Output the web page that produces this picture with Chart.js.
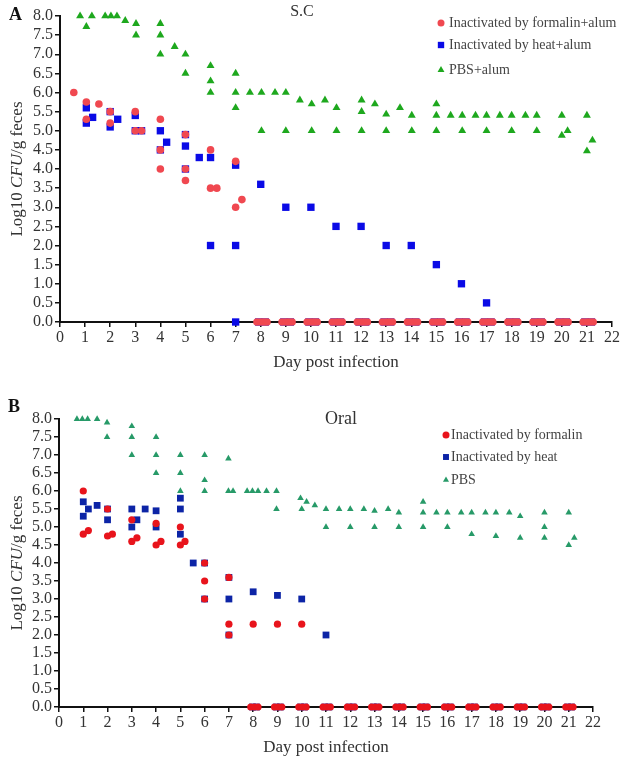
<!DOCTYPE html>
<html>
<head>
<meta charset="utf-8">
<script src="https://cdn.jsdelivr.net/npm/chart.js@4.4.0/dist/chart.umd.min.js"></script>
<style>
  html, body { margin: 0; padding: 0; background: #fff; }
  .panel { width: 625px; height: 380px; }
</style>
</head>
<body>
<div class="panel"><canvas id="chartSC" width="625" height="380"></canvas></div>
<div class="panel"><canvas id="chartOral" width="625" height="380"></canvas></div>
<script>
// Panel A (S.C) - [day, log10 CFU/g]
const scFormalin = [[0.55,6.0],[1.05,5.75],[1.05,5.3],[1.55,5.7],[2.0,5.5],[2.0,5.2],[3.0,5.5],[3.0,5.0],[3.25,5.0],
  [4.0,5.3],[4.0,4.5],[4.0,4.0],[5.0,4.9],[5.0,4.0],[5.0,3.7],[6.0,4.5],[6.0,3.5],[6.25,3.5],[7.0,4.2],[7.0,3.0],[7.25,3.2]];
const scFormalinZeroDays = [7.85,8,8.12,8.25, 8.85,9,9.12,9.25, 9.85,10,10.12,10.25, 10.85,11,11.12,11.25,
  11.85,12,12.12,12.25, 12.85,13,13.12,13.25, 13.85,14,14.12,14.25, 14.85,15,15.12,15.25, 15.85,16,16.12,16.25,
  16.85,17,17.12,17.25, 17.85,18,18.12,18.25, 18.85,19,19.12,19.25, 19.85,20,20.12,20.25, 20.85,21,21.12,21.25];
const scHeat = [[1.05,5.6],[1.05,5.2],[1.3,5.35],[2.0,5.5],[2.0,5.1],[2.3,5.3],[3.0,5.4],[3.0,5.0],[3.25,5.0],
  [4.0,5.0],[4.0,4.5],[4.25,4.7],[5.0,4.9],[5.0,4.6],[5.0,4.0],[5.55,4.3],[6.0,4.3],[6.0,2.0],[7.0,4.1],[7.0,2.0],[7.0,0],
  [8.0,3.6],[9.0,3.0],[10.0,3.0],[11.0,2.5],[12.0,2.5],[13.0,2.0],[14.0,2.0],[15.0,1.5],[16.0,1.0],[17.0,0.5]];
const scHeatZeroDays = [7.92,8.18, 8.92,9.18, 9.92,10.18, 10.92,11.18, 11.92,12.18, 12.92,13.18, 13.92,14.18,
  14.92,15.18, 15.92,16.18, 16.92,17.18, 17.92,18.18, 18.92,19.18, 19.92,20.18, 20.92,21.18];
const scPbs = [[0.8,8.0],[1.05,7.72],[1.27,8.0],[1.8,8.0],[2.03,8.0],[2.27,8.0],[2.6,7.88],[3.03,7.8],[3.03,7.5],
  [4.0,7.8],[4.0,7.5],[4.0,7.0],[4.57,7.2],[5.0,7.0],[5.0,6.5],[6.0,6.7],[6.0,6.3],[6.0,6.0],[7.0,6.5],[7.0,6.0],[7.0,5.6],
  [7.57,6.0],[8.03,6.0],[8.03,5.0],[8.57,6.0],[9.0,6.0],[9.0,5.0],[9.56,5.8],[10.03,5.7],[10.03,5.0],[10.56,5.8],
  [11.02,5.6],[11.02,5.0],[12.02,5.8],[12.02,5.5],[12.02,5.0],[12.55,5.7],[13.0,5.43],[13.0,5.0],[13.55,5.6],
  [14.02,5.4],[14.02,5.0],[15.0,5.7],[15.0,5.4],[15.0,5.0],[15.57,5.4],[16.03,5.4],[16.03,5.0],[16.56,5.4],
  [17.0,5.4],[17.0,5.0],[17.53,5.4],[18.0,5.4],[18.0,5.0],[18.55,5.4],[19.0,5.4],[19.0,5.0],[20.0,5.4],[20.0,4.88],
  [20.23,5.0],[21.0,5.4],[21.0,4.47],[21.22,4.75]];

// Panel B (Oral)
const oralFormalin = [[1.0,6.0],[1.0,4.8],[1.21,4.9],[2.0,5.5],[2.0,4.75],[2.2,4.8],[3.0,5.2],[3.0,4.6],[3.21,4.7],
  [4.0,5.1],[4.0,4.5],[4.2,4.6],[5.0,5.0],[5.0,4.5],[5.19,4.6],[6.0,4.0],[6.0,3.5],[6.0,3.0],[7.0,3.6],[7.0,2.3],[7.0,2.0],
  [8.0,2.3],[9.0,2.3],[10.0,2.3]];
const oralFormalinZeroDays = [7.9,8.05,8.2, 8.88,9.03,9.18, 9.88,10.03,10.18, 10.88,11.03,11.18, 11.88,12.03,12.18,
  12.88,13.03,13.18, 13.88,14.03,14.18, 14.88,15.03,15.18, 15.88,16.03,16.18, 16.88,17.03,17.18, 17.88,18.03,18.18,
  18.88,19.03,19.18, 19.88,20.03,20.18, 20.88,21.03,21.18];
const oralHeat = [[1.0,5.7],[1.0,5.3],[1.21,5.5],[1.57,5.6],[2.0,5.5],[2.0,5.2],[3.0,5.5],[3.0,5.0],[3.21,5.2],[3.55,5.5],
  [4.0,5.45],[4.0,5.0],[5.0,5.8],[5.0,5.5],[5.0,4.8],[5.53,4.0],[6.0,4.0],[6.0,3.0],[7.0,3.6],[7.0,3.0],[7.0,2.0],
  [8.0,3.2],[9.0,3.1],[10.0,3.0],[11.0,2.0]];
const oralHeatZeroDays = [7.97,8.14, 8.95,9.12, 9.95,10.12, 10.95,11.12, 11.95,12.12, 12.95,13.12, 13.95,14.12,
  14.95,15.12, 15.95,16.12, 16.95,17.12, 17.95,18.12, 18.95,19.12, 19.95,20.12, 20.95,21.12];
const oralPbs = [[0.74,8.0],[0.96,8.0],[1.18,8.0],[1.57,8.0],[1.98,7.9],[1.98,7.5],[3.0,7.8],[3.0,7.5],[3.0,7.0],
  [4.0,7.5],[4.0,7.0],[4.0,6.5],[5.0,7.0],[5.0,6.5],[5.0,6.0],[6.0,7.0],[6.0,6.3],[6.0,6.0],[6.98,6.9],[6.98,6.0],
  [7.17,6.0],[7.75,6.0],[7.97,6.0],[8.2,6.0],[8.55,6.0],[8.96,6.0],[8.96,5.5],[9.95,5.8],[10.0,5.5],[10.2,5.7],
  [10.54,5.6],[11.0,5.5],[11.0,5.0],[11.54,5.5],[12.0,5.5],[12.0,5.0],[12.56,5.5],[13.0,5.45],[13.0,5.0],[13.56,5.5],
  [14.0,5.4],[14.0,5.0],[15.0,5.7],[15.0,5.4],[15.0,5.0],[15.55,5.4],[16.0,5.4],[16.0,5.0],[16.57,5.4],[17.0,5.4],
  [17.0,4.8],[17.57,5.4],[18.0,5.4],[18.0,4.75],[18.55,5.4],[19.0,5.3],[19.0,4.7],[20.0,5.4],[20.0,5.0],[20.0,4.7],
  [21.0,5.4],[21.0,4.5],[21.23,4.7]];

const FONT = '"Liberation Serif", "Times New Roman", serif';

function toPoints(pairs, zeroDays) {
  const pts = pairs.map(p => ({ x: p[0], y: p[1] }));
  (zeroDays || []).forEach(d => pts.push({ x: d, y: 0 }));
  return pts;
}

// letter, title, in-plot legend and the y title with italic CFU
const panelDecor = {
  id: 'panelDecor',
  afterDraw(chart, args, o) {
    const ctx = chart.ctx;
    ctx.save();
    ctx.textBaseline = 'middle';
    ctx.fillStyle = '#111';
    ctx.font = 'bold 18px ' + FONT;
    ctx.fillText(o.letter, o.letterX, o.letterY);

    ctx.fillStyle = '#333';
    ctx.font = o.titleSize + 'px ' + FONT;
    ctx.textAlign = 'center';
    ctx.fillText(o.title, o.titleX, o.titleY);

    ctx.textAlign = 'left';
    ctx.font = o.legendSize + 'px ' + FONT;
    chart.data.datasets.forEach((ds, i) => {
      const y = o.legendY[i];
      ctx.fillStyle = ds.backgroundColor;
      Chart.helpers.drawPoint(ctx, { pointStyle: ds.pointStyle, radius: o.legendRadius[i], borderWidth: 0, rotation: 0 }, o.legendX, y);
      ctx.fillStyle = '#444';
      ctx.fillText(ds.label, o.legendX + o.legendGap, y);
    });

    // y axis title
    const area = chart.chartArea;
    const parts = [['Log10 ', ''], ['CFU', 'italic '], ['/g feces', '']];
    ctx.translate(o.yTitleX, (area.top + area.bottom) / 2);
    ctx.rotate(-Math.PI / 2);
    let total = 0;
    parts.forEach(p => { ctx.font = p[1] + '17px ' + FONT; total += ctx.measureText(p[0]).width; });
    let x = -total / 2;
    ctx.fillStyle = '#333';
    parts.forEach(p => {
      ctx.font = p[1] + '17px ' + FONT;
      ctx.fillText(p[0], x, 0);
      x += ctx.measureText(p[0]).width;
    });
    ctx.restore();
  }
};

function makePanel(id, datasets, p) {
  return new Chart(document.getElementById(id), {
    type: 'scatter',
    data: { datasets },
    plugins: [panelDecor],
    options: {
      responsive: false,
      animation: false,
      layout: { padding: { top: p.top, right: p.right, left: 0, bottom: 0 } },
      plugins: {
        legend: { display: false },
        tooltip: { enabled: false },
        panelDecor: p.decor
      },
      scales: {
        x: {
          type: 'linear', min: 0, max: 22,
          afterFit: s => { s.height = p.xHeight; },
          ticks: { stepSize: 1, color: '#333', font: { family: FONT, size: 16 }, padding: 1, maxRotation: 0, autoSkip: false },
          grid: { drawOnChartArea: false, drawTicks: true, tickLength: 5, color: '#111', lineWidth: 1.5 },
          border: { color: '#111', width: 2 },
          title: { display: true, text: 'Day post infection', color: '#333', font: { family: FONT, size: 17 }, padding: { top: 0, bottom: p.xTitlePad } }
        },
        y: {
          type: 'linear', min: 0, max: 8,
          afterFit: s => { s.width = p.yWidth; },
          ticks: { stepSize: 0.5, autoSkip: false, color: '#333', font: { family: FONT, size: 16 }, padding: 2, callback: v => v.toFixed(1) },
          grid: { drawOnChartArea: false, drawTicks: true, tickLength: 5, color: '#111', lineWidth: 1.5 },
          border: { color: '#111', width: 2 }
        }
      }
    }
  });
}

makePanel('chartSC', [
  { label: 'Inactivated by formalin+alum', data: toPoints(scFormalin, scFormalinZeroDays), pointStyle: 'circle', pointRadius: 3.8, backgroundColor: '#f04850', borderWidth: 0, clip: false },
  { label: 'Inactivated by heat+alum', data: toPoints(scHeat, scHeatZeroDays), pointStyle: 'rect', pointRadius: 5.2, backgroundColor: '#0a0ae6', borderWidth: 0, clip: false },
  { label: 'PBS+alum', data: toPoints(scPbs), pointStyle: 'triangle', pointRadius: 4.6, backgroundColor: '#1ea81e', borderWidth: 0, clip: false }
], {
  top: 16, right: 13, xHeight: 58, yWidth: 60, xTitlePad: 7,
  decor: { letter: 'A', letterX: 9, letterY: 15, title: 'S.C', titleSize: 16, titleX: 302, titleY: 12,
    legendX: 441, legendGap: 8, legendY: [23, 45, 70], legendRadius: [3.5, 4.5, 4], legendSize: 14, yTitleX: 18 }
});

makePanel('chartOral', [
  { label: 'Inactivated by formalin', data: toPoints(oralFormalin, oralFormalinZeroDays), pointStyle: 'circle', pointRadius: 3.6, backgroundColor: '#e8141c', borderWidth: 0, clip: false },
  { label: 'Inactivated by heat', data: toPoints(oralHeat, oralHeatZeroDays), pointStyle: 'rect', pointRadius: 4.8, backgroundColor: '#0c24a6', borderWidth: 0, clip: false },
  { label: 'PBS', data: toPoints(oralPbs), pointStyle: 'triangle', pointRadius: 3.8, backgroundColor: '#279a68', borderWidth: 0, clip: false }
], {
  top: 39, right: 32, xHeight: 53, yWidth: 59, xTitlePad: 2,
  decor: { letter: 'B', letterX: 8, letterY: 27, title: 'Oral', titleSize: 18, titleX: 341, titleY: 39,
    legendX: 446, legendGap: 5, legendY: [55, 77, 100], legendRadius: [3.5, 4.2, 3.5], legendSize: 14, yTitleX: 18 }
});
</script>
</body>
</html>
